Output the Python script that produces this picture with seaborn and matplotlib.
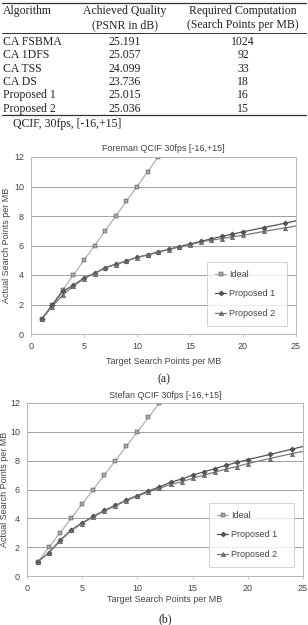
import matplotlib
matplotlib.use("Agg")
import matplotlib.pyplot as plt
import seaborn as sns
import pandas as pd

sns.set_theme(style="white")
plt.rcParams['font.family'] = ['Liberation Sans', 'DejaVu Sans']

# ---- table data ----
algorithms = ["CA FSBMA", "CA 1DFS", "CA TSS", "CA DS", "Proposed 1", "Proposed 2"]
psnr = ["25.191", "25.057", "24.099", "23.736", "25.015", "25.036"]
search_pts = ["1024", "92", "33", "18", "16", "15"]
table_caption = "QCIF, 30fps, [-16,+15]"

# ---- chart data ----
ideal_x = [1, 2, 3, 4, 5, 6, 7, 8, 9, 10, 11, 12]
ideal_y = [1, 2, 3, 4, 5, 6, 7, 8, 9, 10, 11, 12]
prop_x = [1, 2, 3, 4, 5, 6, 7, 8, 9, 10, 11, 12, 13, 14, 15, 16, 17, 18, 19, 20, 22, 24, 26]

fore_p1 = [1.0, 1.95, 2.9, 3.3, 3.8, 4.12, 4.5, 4.73, 4.96, 5.2, 5.37, 5.57, 5.75, 5.93,
           6.1, 6.28, 6.45, 6.62, 6.77, 6.93, 7.22, 7.52, 7.82]
fore_p2 = [1.0, 1.85, 2.65, 3.25, 3.76, 4.1, 4.48, 4.71, 4.94, 5.18, 5.35, 5.55, 5.72, 5.9,
           6.06, 6.23, 6.38, 6.46, 6.6, 6.69, 6.96, 7.2, 7.45]
stef_p1 = [1.0, 1.63, 2.47, 3.2, 3.68, 4.14, 4.55, 4.9, 5.27, 5.58, 5.9, 6.18, 6.5, 6.72,
           7.0, 7.22, 7.44, 7.67, 7.88, 8.07, 8.43, 8.8, 9.16]
stef_p2 = [1.0, 1.61, 2.44, 3.16, 3.64, 4.1, 4.51, 4.86, 5.23, 5.53, 5.84, 6.08, 6.36, 6.53,
           6.78, 6.99, 7.2, 7.41, 7.59, 7.8, 8.15, 8.49, 8.8]

titles = ["Foreman QCIF 30fps [-16,+15]", "Stefan QCIF 30fps [-16,+15]"]
series_names = ["Ideal", "Proposed 1", "Proposed 2"]
xticks = [0, 5, 10, 15, 20, 25]
yticks = [0, 2, 4, 6, 8, 10, 12]
xlabel = "Target Search Points per MB"
ylabel = "Actual Search Points per MB"
sublabels = ["(a)", "(b)"]

W, H = 308, 625
fig = plt.figure(figsize=(W / 100, H / 100), dpi=100)

def fx(px):
    return px / W

def fy(py):
    return 1 - py / H

serif = ['Liberation Serif', 'DejaVu Serif']
tfs = 8.5
tcol = '#222222'

# ---- table ----
for yy, lw in [(2.7, 0.9), (33, 0.7), (115, 0.9)]:
    fig.add_artist(plt.Line2D([fx(2), fx(306)], [fy(yy), fy(yy)], color='#333333', lw=lw))
fig.text(fx(3), fy(10.7), "Algorithm", family=serif, fontsize=tfs, color=tcol, ha='left', va='center')
fig.text(fx(125), fy(10.7), "Achieved Quality", family=serif, fontsize=tfs, color=tcol, ha='center', va='center')
fig.text(fx(125), fy(25), "(PSNR in dB)", family=serif, fontsize=tfs, color=tcol, ha='center', va='center')
fig.text(fx(243), fy(10.7), "Required Computation", family=serif, fontsize=tfs, color=tcol, ha='center', va='center')
fig.text(fx(243), fy(25), "(Search Points per MB)", family=serif, fontsize=tfs, color=tcol, ha='center', va='center')
row_y = [42.3, 55.3, 68.5, 82, 95.3, 108.7]
for ry, a, p, s in zip(row_y, algorithms, psnr, search_pts):
    fig.text(fx(3), fy(ry), a, family=serif, fontsize=tfs, color=tcol, ha='left', va='center')
    fig.text(fx(125), fy(ry), p, family=serif, fontsize=tfs, color=tcol, ha='center', va='center')
    fig.text(fx(243), fy(ry), s, family=serif, fontsize=tfs, color=tcol, ha='center', va='center')
fig.text(fx(13), fy(124), table_caption, family=serif, fontsize=tfs, color=tcol, ha='left', va='center')

# ---- charts ----
fs = 6.5
styles = {
    "Ideal": dict(color='#a8a8a8', marker='s', ms=2.9, lw=0.8),
    "Proposed 1": dict(color='#555555', marker='D', ms=2.7, lw=0.9),
    "Proposed 2": dict(color='#7a7a7a', marker='^', ms=3.1, lw=0.9),
}

def draw_chart(rect, title, p1, p2, ylab_x, xlab_y, sub_y, leg_box, sublabel):
    l, r, t, b = rect
    ax = fig.add_axes([fx(l), fy(b), fx(r - l), (b - t) / H])
    df = pd.concat([
        pd.DataFrame({"x": ideal_x, "y": ideal_y, "s": "Ideal"}),
        pd.DataFrame({"x": prop_x, "y": p1, "s": "Proposed 1"}),
        pd.DataFrame({"x": prop_x, "y": p2, "s": "Proposed 2"}),
    ])
    for name in series_names:
        st = styles[name]
        sub = df[df.s == name]
        sns.lineplot(data=sub, x="x", y="y", ax=ax, color=st['color'], lw=st['lw'],
                     marker=st['marker'], markersize=st['ms'], markeredgewidth=0.3,
                     markeredgecolor='#333333', label=name, sort=False)
    ax.set_xlim(0, 25)
    ax.set_ylim(0, 12)
    ax.set_xticks(xticks)
    ax.set_yticks(yticks)
    ax.tick_params(axis='x', labelsize=fs, length=2, width=0.5, direction='out', pad=4,
                   bottom=True, color='#b5b5b5')
    ax.tick_params(axis='y', labelsize=fs, length=0, pad=5)
    for lab in ax.get_xticklabels() + ax.get_yticklabels():
        lab.set_color('#444444')
    ax.yaxis.grid(True, color='#a0a0a0', lw=0.7)
    ax.xaxis.grid(False)
    for sp in ax.spines.values():
        sp.set_color('#b5b5b5')
        sp.set_linewidth(0.7)
    ax.set_xlabel("")
    ax.set_ylabel("")
    fig.text(fx((l + r) / 2), fy(t - 8), title, fontsize=fs, color='#444444', ha='center', va='center')
    fig.text(fx(ylab_x), fy((t + b) / 2), ylabel, fontsize=fs, color='#444444', ha='center', va='center',
             rotation=90)
    fig.text(fx((l + r) / 2), fy(xlab_y), xlabel, fontsize=fs, color='#444444', ha='center', va='center')
    fig.text(fx((l + r) / 2), fy(sub_y), sublabel, family=serif, fontsize=tfs, color=tcol, ha='center',
             va='center')
    ll, lr, lt, lb = leg_box
    leg = ax.legend(loc='lower left',
                    bbox_to_anchor=((ll - l) / (r - l), (b - lb) / (b - t), (lr - ll) / (r - l), (lb - lt) / (b - t)),
                    mode='expand', fontsize=fs, frameon=True, fancybox=False, labelspacing=1.2,
                    handlelength=1.3, handletextpad=0.3, borderpad=0.85, borderaxespad=0)
    leg.get_frame().set_edgecolor('#c8c8c8')
    leg.get_frame().set_linewidth(0.7)
    for txt in leg.get_texts():
        txt.set_color('#444444')
    return ax

draw_chart((31, 296, 157, 334), titles[0], fore_p1, fore_p2, 7, 361, 379, (207, 287, 265, 326), sublabels[0])
draw_chart((27, 303, 403, 576), titles[1], stef_p1, stef_p2, 5, 600, 619, (209, 294, 508, 567), sublabels[1])

fig.savefig("out.png", dpi=100)
